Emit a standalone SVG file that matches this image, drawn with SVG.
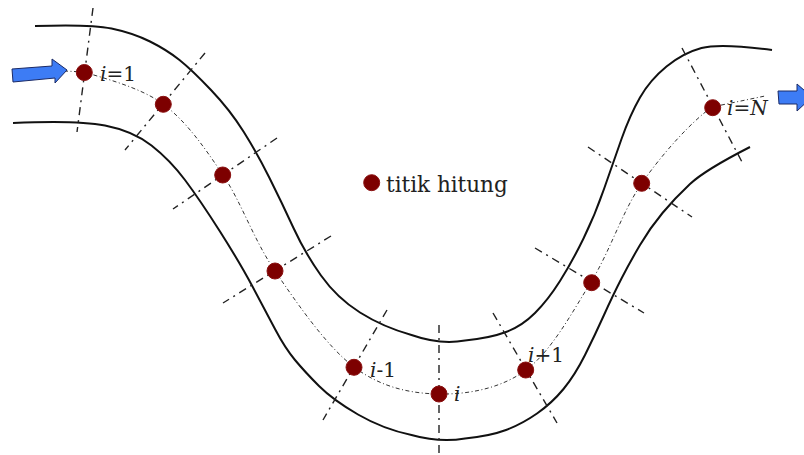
<svg xmlns="http://www.w3.org/2000/svg" width="804" height="455" viewBox="0 0 804 455">
<style>
.bank{fill:none;stroke:#111;stroke-width:2}
.axis{fill:none;stroke:#333;stroke-width:1;stroke-dasharray:4 2.5 1 2.5}
.cut{fill:none;stroke:#222;stroke-width:1.4;stroke-dasharray:8 5 2 5}
.pt{fill:#7d0000;stroke:#8a1010;stroke-width:1}
.lbl{font-family:"DejaVu Serif","Liberation Serif",serif;font-size:20px;fill:#222}
.it{font-style:italic}
.arrow{fill:#3d7cf5;stroke:#1b2a66;stroke-width:1}
</style>
<rect width="804" height="455" fill="#ffffff"/>
<g id="banks">
<path class="bank" d="M35,26 Q90,24 111.5,28.5 Q133,33 150,41.5 Q167,50 179.5,60 Q192,70 211,90 Q230,110 243.5,131.5 Q257,153 269.5,178 Q282,203 293.5,228 Q305,253 321,275.5 Q337,298 360,312.5 Q383,327 411.5,335 Q440,345 465,340.5 Q490,338 506,332 Q522,326 535,313 Q548,300 560,281 Q572,262 583.5,238.5 Q595,215 604,189 Q613,163 621.5,139 Q630,115 640,97.5 Q650,80 666.5,66.5 Q683,53 701.5,48 Q720,43 772,50"/>
<path class="bank" d="M13,123 Q77,120 105,125.5 Q133,131 151.5,145.5 Q170,160 185,180 Q200,200 220,231.5 Q240,263 252.5,286.5 Q265,310 275,329 Q285,348 295,360 Q305,372 319,386 Q333,400 358,414.5 Q383,429 411.5,435 Q440,443 465,438.5 Q490,436 506,430 Q522,424 537,413.5 Q552,403 563.5,389 Q575,375 585,355 Q595,335 604,315 Q613,295 621.5,278.5 Q630,262 640,245 Q650,228 662.5,213 Q675,198 690,184 Q705,170 750,147"/>
</g>
<g id="connectors">
<path class="axis" d="M64,71 L84,72 C100.8,77.5 139.8,86.8 163,104 C186.2,121.2 204.3,147.2 223,175 C241.7,202.8 253.2,239 275,271 C296.8,303 326.7,346.5 354,367 C381.3,387.5 410.3,393.5 439,394 C467.7,394.5 500.7,388.7 526,370 C551.3,351.3 571.7,313.2 591,282 C610.3,250.8 621.8,212.2 642,183 C662.2,153.8 691.5,121.5 712,107 L765,96"/>
<line class="cut" x1="93" y1="8" x2="77" y2="132"/>
<line class="cut" x1="205" y1="53" x2="125" y2="150"/>
<line class="cut" x1="277" y1="138" x2="173" y2="209"/>
<line class="cut" x1="331" y1="236" x2="223" y2="303"/>
<line class="cut" x1="387" y1="310" x2="323" y2="420"/>
<line class="cut" x1="439" y1="325" x2="439" y2="455"/>
<line class="cut" x1="493" y1="313" x2="557" y2="423"/>
<line class="cut" x1="535" y1="248" x2="644" y2="313"/>
<line class="cut" x1="588" y1="147" x2="692" y2="217"/>
<line class="cut" x1="682" y1="48" x2="742" y2="162"/>
</g>
<g id="inflow"><polygon class="arrow" points="12,69 52,66 52,59 67,70 55,83 55,78 13,82"/></g>
<g id="outflow"><polygon class="arrow" points="778,91 797,91 797,84 812,97 797,111 797,104 779,104"/></g>
<g id="node1"><circle class="pt" cx="84.3" cy="72.5" r="8"/><text class="lbl" x="100" y="81"><tspan class="it">i</tspan>=1</text></g>
<g id="node2"><circle class="pt" cx="163.3" cy="104.3" r="8"/></g>
<g id="node3"><circle class="pt" cx="222.7" cy="175" r="8"/></g>
<g id="node4"><circle class="pt" cx="275" cy="271" r="8"/></g>
<g id="node5"><circle class="pt" cx="354" cy="367.3" r="8"/><text class="lbl" x="370" y="377"><tspan class="it">i</tspan>-1</text></g>
<g id="node6"><circle class="pt" cx="439" cy="394" r="8"/><text class="lbl it" x="454" y="401">i</text></g>
<g id="node7"><circle class="pt" cx="525.7" cy="370" r="8"/><text class="lbl" x="528" y="362"><tspan class="it">i</tspan>+1</text></g>
<g id="node8"><circle class="pt" cx="591.7" cy="282.7" r="8"/></g>
<g id="node9"><circle class="pt" cx="641.7" cy="183.3" r="8"/></g>
<g id="node10"><circle class="pt" cx="712.7" cy="107.7" r="8"/><text class="lbl it" x="727" y="115">i<tspan font-style="normal">=</tspan>N</text></g>
<g id="legend"><circle class="pt" cx="371.7" cy="182.7" r="8"/><text class="lbl" x="386" y="192" style="font-size:21.5px">titik hitung</text></g>
</svg>
